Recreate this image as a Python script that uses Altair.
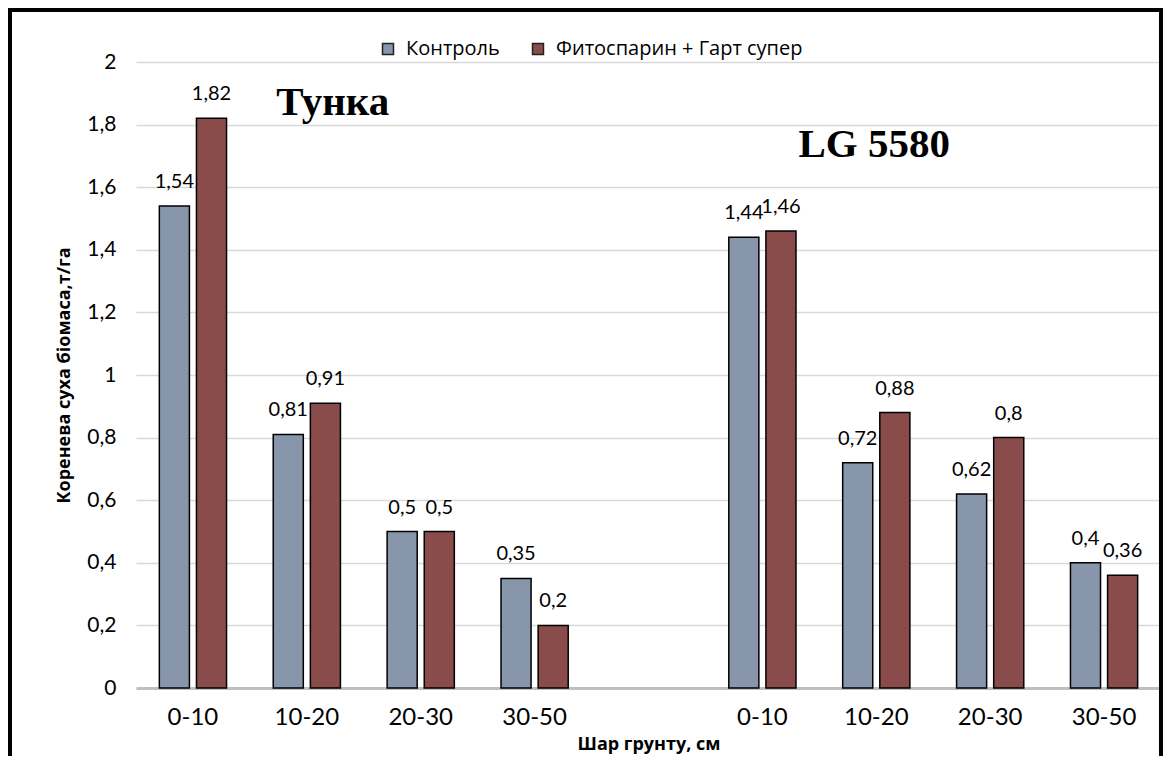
import altair as alt
import pandas as pd

varieties = ["Тунка", "LG 5580"]
layers = ["0-10", "10-20", "20-30", "30-50"]
series = ["Контроль", "Фитоспарин + Гарт супер"]
control = [1.54, 0.81, 0.5, 0.35, 1.44, 0.72, 0.62, 0.4]
fito = [1.82, 0.91, 0.5, 0.2, 1.46, 0.88, 0.8, 0.36]
y_ticks = [0, 0.2, 0.4, 0.6, 0.8, 1.0, 1.2, 1.4, 1.6, 1.8, 2.0]

FONT = "Lato"
TFONT = "Open Sans"

keys = [f"{v}|{l}" for v in varieties for l in layers]
domain = keys[:4] + ["gap"] + keys[4:]

rows = []
for i, k in enumerate(keys):
    rows.append({"slot": k, "series": series[0], "value": control[i]})
    rows.append({"slot": k, "series": series[1], "value": fito[i]})
df = pd.DataFrame(rows)
df["label"] = df["value"].map(lambda v: f"{v:g}".replace(".", ","))

x_enc = alt.X(
    "slot:N",
    scale=alt.Scale(domain=domain, paddingInner=0.41, paddingOuter=0.205),
    sort=domain,
    axis=alt.Axis(
        title="Шар грунту, см",
        titleFont=TFONT, titleFontSize=18, titleFontWeight="bold", titleColor="#000",
        titlePadding=6,
        labelExpr="indexof(datum.value,'|')>=0 ? split(datum.value,'|')[1] : ''",
        labelFont=FONT, labelFontSize=24, labelColor="#000", labelPadding=17,
        labelAngle=0, ticks=False, domainColor="#bfbfbf", domainWidth=3,
        grid=False,
    ),
)
xo_enc = alt.XOffset("series:N", sort=series,
                     scale=alt.Scale(domain=series, paddingInner=0.19))
y_enc = alt.Y(
    "value:Q",
    scale=alt.Scale(domain=[0, 2], nice=False),
    axis=alt.Axis(
        title="Коренева суха біомаса,т/га",
        titleFont=TFONT, titleFontSize=18, titleFontWeight="bold", titleColor="#000",
        titlePadding=13,
        values=y_ticks,
        labelExpr="replace(format(datum.value,'~g'),'.',',')",
        labelFont=FONT, labelFontSize=21, labelColor="#000", labelPadding=20,
        domain=False, ticks=False, gridColor="#d9d9d9", gridWidth=1.5,
    ),
)

base = alt.Chart(df)

bars = base.mark_bar(stroke="#000", strokeWidth=1.5).encode(
    x=x_enc,
    xOffset=xo_enc,
    y=y_enc,
    color=alt.Color(
        "series:N",
        sort=series,
        scale=alt.Scale(domain=series, range=["#8896ac", "#8a4b4b"]),
        legend=alt.Legend(
            title=None, orient="none", direction="horizontal",
            legendX=242, legendY=-23,
            symbolType="square", symbolSize=120, symbolStrokeColor="#222",
            symbolStrokeWidth=1.5, symbolOpacity=1,
            labelFont=TFONT, labelFontSize=20, labelColor="#000",
            labelLimit=0, labelOffset=8,
            columnPadding=28,
        ),
    ),
)

labels = base.mark_text(font=FONT, fontSize=20, color="#000", baseline="bottom", dy=-14).encode(
    x=alt.X("slot:N", sort=domain), xOffset=alt.XOffset("series:N", sort=series), y="value:Q", text="label:N"
)

ann_df = pd.DataFrame({
    "slot": [keys[1], keys[5]],
    "value": [1.83, 1.695],
    "name": varieties,
})
ann1 = alt.Chart(ann_df.iloc[[0]]).mark_text(
    font="Liberation Serif", fontSize=41, fontWeight="bold", color="#000", baseline="alphabetic", dx=26
).encode(x=alt.X("slot:N", sort=domain), y="value:Q", text="name:N")
ann2 = alt.Chart(ann_df.iloc[[1]]).mark_text(
    font="Liberation Serif", fontSize=41, fontWeight="bold", color="#000", baseline="alphabetic", dx=-2
).encode(x=alt.X("slot:N", sort=domain), y="value:Q", text="name:N")

border = alt.Chart(pd.DataFrame({"b": [0]})).mark_rect(
    fillOpacity=0, stroke="#000", strokeWidth=4
).encode(
    x=alt.value(-126), x2=alt.value(1025), y=alt.value(-52), y2=alt.value(700)
)

chart = alt.layer(bars, labels, ann1, ann2, border).properties(
    width=1025, height=626,
    background="#ffffff",
    autosize=alt.AutoSizeParams(type="none"),
    padding={"left": 128, "top": 54, "right": 2, "bottom": 68},
).configure_view(stroke=None)

chart.save("out.html", embed_options={"renderer": "svg", "actions": False})
